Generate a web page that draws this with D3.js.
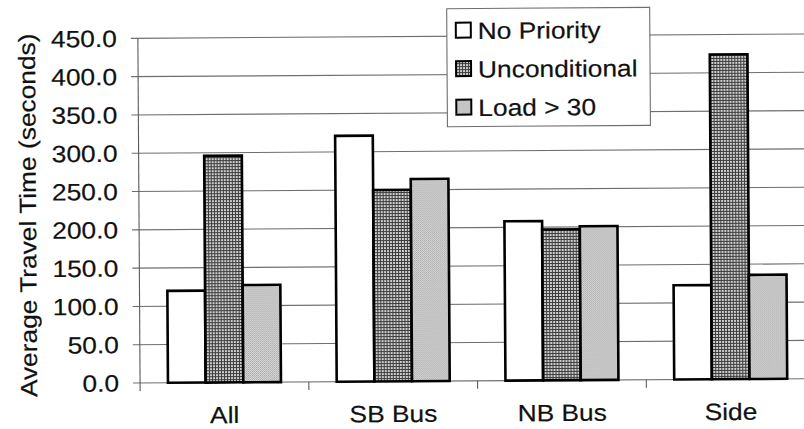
<!DOCTYPE html>
<html>
<head>
<meta charset="utf-8">
<script src="https://cdn.jsdelivr.net/npm/d3@7/dist/d3.min.js"></script>
<style>
  html, body { margin: 0; padding: 0; background: #fff; }
  svg { display: block; }
  text { font-family: "Liberation Sans", Arial, sans-serif; fill: #111; stroke: #111; stroke-width: 0.2px; }
</style>
</head>
<body>
<svg id="chart" width="804" height="429"></svg>
<script>
// Average travel time per movement under three bus-priority strategies
const categories = ["All", "SB Bus", "NB Bus", "Side"];
const seriesNames = ["No Priority", "Unconditional", "Load > 30"];
const noPriority    = [120, 321, 208, 123];
const unconditional = [296, 250, 197, 424];
const loadOver30    = [127, 264, 201, 136];
const yTicks = [0, 50, 100, 150, 200, 250, 300, 350, 400, 450];
const yTitle = "Average Travel Time (seconds)";

const seriesValues = [noPriority, unconditional, loadOver30];
const rows = categories.map((c, i) => ({
  category: c,
  values: seriesNames.map((s, j) => ({ series: s, value: seriesValues[j][i] }))
}));

const svg = d3.select("#chart");

// fill patterns
const defs = svg.append("defs");
const grid = defs.append("pattern").attr("id", "pat-grid")
  .attr("patternUnits", "userSpaceOnUse").attr("width", 3).attr("height", 3);
grid.append("rect").attr("width", 3).attr("height", 3).attr("fill", "#cfcfcf");
grid.append("rect").attr("width", 3).attr("height", 1).attr("fill", "#3c3c3c");
grid.append("rect").attr("width", 1).attr("height", 3).attr("fill", "#3c3c3c");

const dots = defs.append("pattern").attr("id", "pat-dots")
  .attr("patternUnits", "userSpaceOnUse").attr("width", 2).attr("height", 2);
dots.append("rect").attr("width", 2).attr("height", 2).attr("fill", "#dadada");
dots.append("rect").attr("width", 1).attr("height", 1).attr("fill", "#a9a9a9");
dots.append("rect").attr("x", 1).attr("y", 1).attr("width", 1).attr("height", 1).attr("fill", "#b4b4b4");

const fills = { "No Priority": "#ffffff", "Unconditional": "url(#pat-grid)", "Load > 30": "url(#pat-dots)" };

const g = svg.append("g").attr("transform", "rotate(-0.37, 402, 214)");

const plotLeft = 139, plotRight = 814, plotTop = 36.6, plotBottom = 381.3;
const x0 = d3.scaleBand().domain(categories).range([plotLeft, plotRight]).padding(0);
const x1 = d3.scaleBand().domain(seriesNames).range([0, x0.bandwidth()])
  .paddingInner(0).paddingOuter(0.74);
const y = d3.scaleLinear().domain([0, 450]).range([plotBottom, plotTop]);

const FS = 23.5, SX = 1.12;

// horizontal gridlines with ticks on the left
g.append("g").selectAll("line").data(yTicks).join("line")
  .attr("x1", plotLeft - 7).attr("x2", plotRight)
  .attr("y1", d => y(d)).attr("y2", d => y(d))
  .attr("stroke", "#6e6e6e").attr("stroke-width", 1.1);

// y axis line
g.append("line").attr("x1", plotLeft).attr("x2", plotLeft)
  .attr("y1", y(450)).attr("y2", y(0) + 8)
  .attr("stroke", "#5a5a5a").attr("stroke-width", 1.1);

// category separator ticks on the baseline
g.append("g").selectAll("line").data(categories.slice(1)).join("line")
  .attr("x1", d => x0(d)).attr("x2", d => x0(d))
  .attr("y1", y(0)).attr("y2", y(0) + 8)
  .attr("stroke", "#5a5a5a").attr("stroke-width", 1.1);

// y tick labels
g.append("g").selectAll("text").data(yTicks).join("text")
  .attr("transform", d => `translate(118,${y(d) + 8.4}) scale(${SX},1)`)
  .attr("text-anchor", "end").attr("font-size", FS)
  .text(d => d3.format(".1f")(d));

// y axis title
g.append("text")
  .attr("transform", `translate(36,${(plotTop + plotBottom) / 2 + 4}) rotate(-90) scale(${SX},1)`)
  .attr("text-anchor", "middle").attr("font-size", FS)
  .text(yTitle);

// category labels
g.append("g").selectAll("text").data(categories).join("text")
  .attr("transform", d => `translate(${x0(d) + x0.bandwidth() / 2},422) scale(${SX},1)`)
  .attr("text-anchor", "middle").attr("font-size", FS)
  .text(d => d);

// bars
g.append("g").selectAll("g").data(rows).join("g")
  .attr("transform", d => `translate(${x0(d.category)},0)`)
  .selectAll("rect").data(d => d.values).join("rect")
  .attr("x", d => x1(d.series))
  .attr("width", x1.bandwidth())
  .attr("y", d => y(d.value))
  .attr("height", d => y(0) - y(d.value))
  .attr("fill", d => fills[d.series])
  .attr("stroke", "#000").attr("stroke-width", 2.6);

// legend
const lg = g.append("g").attr("transform", "translate(448,9)");
lg.append("rect").attr("width", 203).attr("height", 118)
  .attr("fill", "#fff").attr("stroke", "#6e6e6e").attr("stroke-width", 1.1);
const item = lg.selectAll("g.item").data(seriesNames).join("g").attr("class", "item")
  .attr("transform", (d, i) => `translate(0,${22 + i * 38.5})`);
item.append("rect").attr("x", 9).attr("y", -8).attr("width", 15).attr("height", 15)
  .attr("fill", d => fills[d]).attr("stroke", "#000").attr("stroke-width", 2);
item.append("text")
  .attr("transform", `translate(31,8.4) scale(${SX},1)`)
  .attr("font-size", FS).text(d => d);
</script>
</body>
</html>
